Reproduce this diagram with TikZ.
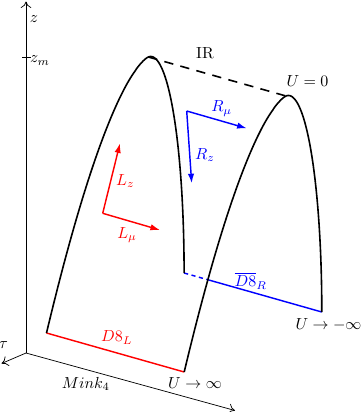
\documentclass[tikz,border=0pt]{standalone}
\usetikzlibrary{arrows.meta,calc,intersections}
\begin{document}
\begin{tikzpicture}[x=0.625pt,y=-0.625pt,
  axisline/.style={line width=0.45pt,-{Computer Modern Rightarrow[length=4pt,width=6.5pt]}},
  brane/.style={line width=1pt,black},
  lbl/.style={inner sep=0pt,anchor=center},
  vec/.style={line width=0.9pt,-{Latex[length=6pt,width=4pt]}}]
\useasboundingbox (0,0) rectangle (361,412);
% axes
\coordinate (O) at (26,353);
\coordinate (Ztip) at (26,1.5);
\coordinate (Ttip) at (1.5,363.5);
\coordinate (Mtip) at (235,410.5);
\coordinate (tickL) at (22,57);
\coordinate (tickR) at (30.5,57);
\draw[axisline] (O) -- (Ztip);
\draw[axisline] (O) -- (Ttip);
\draw[axisline] (O) -- (Mtip);
\draw[line width=0.45pt] (tickL) -- (tickR);
\node[lbl] (zl) at (34,19) {$z$};
\node[lbl] (zml) at (40,60.5) {$z_m$};
\node[lbl] (taul) at (3.5,345) {$\tau$};
\node[lbl] (minkl) at (85.8,384) {$Mink_4$};
% key points
\coordinate (A) at (46.5,333);
\coordinate (B) at ($(A)+(137.7,39)$);
\coordinate (P1) at (148.3,57);
\coordinate (P2) at ($(P1)+(137.7,39)$);
\coordinate (C) at (184.1,273);
\coordinate (D) at ($(C)+(137.7,39)$);
% blue back line
\path[name path=cd] (C) -- (D);
\path[name path=leg2] [shift={(137.7,39)}]
  plot[domain=0:1,samples=80,variable=\t] ({46.5+101.8*\t},{333-44.4*\t-231.6*(1-(1.00001-\t)^1.65)});
\path[name intersections={of=cd and leg2,by=X}];
\draw[blue,line width=0.9pt,dash pattern=on 2.6pt off 2.2pt] (C) -- (X);
\draw[blue,line width=0.9pt] (X) -- (D);
% red front line
\draw[red,line width=0.9pt] (A) -- (B);
% first arch
\draw[brane] plot[domain=0:1,samples=80,variable=\t] ({46.5+101.8*\t},{333-44.4*\t-231.6*(1-(1.00001-\t)^1.65)});
\draw[brane] plot[domain=0:90,samples=60,variable=\a] ({148.3+35.8*sin(\a)},{288.6-15.6*sin(\a)-231.6*cos(\a)});
% second arch
\begin{scope}[shift={(137.7,39)}]
\draw[brane] plot[domain=0:1,samples=80,variable=\t] ({46.5+101.8*\t},{333-44.4*\t-231.6*(1-(1.00001-\t)^1.65)});
\draw[brane] plot[domain=0:90,samples=60,variable=\a] ({148.3+35.8*sin(\a)},{288.6-15.6*sin(\a)-231.6*cos(\a)});
\end{scope}
% IR dashed
\draw[brane,dash pattern=on 5.8pt off 4.6pt] (P1) -- (P2);
% vectors
\coordinate (Lo) at (102.7,213.3);
\coordinate (Lz) at (120,143.3);
\coordinate (Lm) at (160,230);
\draw[vec,red] (Lo) -- (Lz);
\draw[vec,red] (Lo) -- (Lm);
\coordinate (Ro) at (186.7,111);
\coordinate (Rm) at (246.7,128.3);
\coordinate (Rz) at (191.7,183.3);
\draw[vec,blue] (Ro) -- (Rm);
\draw[vec,blue] (Ro) -- (Rz);
% labels
\node[lbl] (irl) at (205,53.3) {IR};
\node[lbl] (u0) at (307.5,80.8) {$U=0$};
\node[lbl,blue] (rml) at (221.7,108.5) {$R_\mu$};
\node[lbl,blue] (rzl) at (205,155) {$R_z$};
\node[lbl,red] (lzl) at (125.3,180.8) {$L_z$};
\node[lbl,red] (lml) at (127,235) {$L_\mu$};
\node[lbl,red] (d8l) at (116.7,337.5) {$D8_L$};
\node[lbl,blue] (d8r) at (250.8,281) {$\overline{D8}_R$};
\node[lbl] (umi) at (328.5,325) {$U\to-\infty$};
\node[lbl] (upi) at (195,383.3) {$U\to\infty$};
\end{tikzpicture}
\end{document}
